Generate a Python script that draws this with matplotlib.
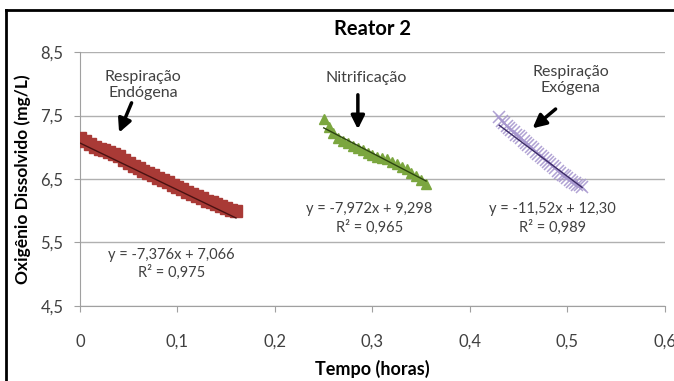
import matplotlib.pyplot as plt
import numpy as np
from matplotlib.lines import Line2D

plt.rcParams['font.family'] = ['Lato', 'DejaVu Sans']

# data
x_endo = [0.000, 0.005, 0.010, 0.015, 0.020, 0.025, 0.030, 0.035, 0.040, 0.045, 0.050,
          0.055, 0.060, 0.065, 0.070, 0.075, 0.080, 0.085, 0.090, 0.095, 0.100, 0.105,
          0.110, 0.115, 0.120, 0.125, 0.130, 0.135, 0.140, 0.145, 0.150, 0.155, 0.160]
y_endo = [7.14, 7.10, 7.05, 7.01, 6.98, 6.95, 6.93, 6.90, 6.86, 6.80, 6.75,
          6.71, 6.67, 6.63, 6.59, 6.56, 6.52, 6.49, 6.45, 6.41, 6.37, 6.34,
          6.30, 6.26, 6.23, 6.20, 6.16, 6.13, 6.10, 6.07, 6.04, 6.01, 6.00]

x_nit = [0.250, 0.255, 0.260, 0.265, 0.270, 0.275, 0.280, 0.285, 0.290, 0.295, 0.300,
         0.305, 0.310, 0.315, 0.320, 0.325, 0.330, 0.335, 0.340, 0.345, 0.350, 0.355]
y_nit = [7.45, 7.32, 7.22, 7.15, 7.10, 7.06, 7.02, 6.99, 6.95, 6.91, 6.88,
         6.85, 6.83, 6.81, 6.77, 6.73, 6.69, 6.65, 6.60, 6.54, 6.48, 6.42]

x_exo = [0.4300, 0.4325, 0.4350, 0.4375, 0.4400, 0.4425, 0.4450, 0.4475, 0.4500, 0.4525,
         0.4550, 0.4575, 0.4600, 0.4625, 0.4650, 0.4675, 0.4700, 0.4725, 0.4750, 0.4775,
         0.4800, 0.4825, 0.4850, 0.4875, 0.4900, 0.4925, 0.4950, 0.4975, 0.5000, 0.5025,
         0.5050, 0.5075, 0.5100, 0.5125, 0.5150]
y_exo = [7.47, 7.42, 7.38, 7.34, 7.31, 7.27, 7.24, 7.20, 7.17, 7.14,
         7.10, 7.07, 7.03, 7.00, 6.97, 6.93, 6.90, 6.87, 6.83, 6.80,
         6.77, 6.73, 6.70, 6.67, 6.63, 6.60, 6.57, 6.54, 6.51, 6.48,
         6.46, 6.43, 6.41, 6.40, 6.38]

# trendline coefficients (slope, intercept) and labels
fit_endo = (-7.376, 7.066)
fit_nit = (-7.972, 9.298)
fit_exo = (-11.52, 12.30)
eq_endo = 'y = -7,376x + 7,066\nR² = 0,975'
eq_nit = 'y = -7,972x + 9,298\nR² = 0,965'
eq_exo = 'y = -11,52x + 12,30\nR² = 0,989'

fig = plt.figure(figsize=(6.74, 3.81), dpi=100)
ax = fig.add_axes([0.1187, 0.1969, 0.8679, 0.6666])

ax.plot(x_endo, y_endo, 's', ms=8, color='#A93A36', mec='#A93A36', zorder=3)
ax.plot(x_nit, y_nit, '^', ms=7, color='#7BA63F', mec='#7BA63F', zorder=3)
ax.plot(x_exo, y_exo, 'x', ms=9, mew=1.1, color='#A898CF', alpha=0.9, zorder=3)

for xs, (m, b), c in [(x_endo, fit_endo, '#4a1212'),
                      (x_nit, fit_nit, '#2c4410'),
                      (x_exo, fit_exo, '#3b2a66')]:
    xx = np.array([min(xs), max(xs)])
    ax.plot(xx, m * xx + b, color=c, lw=1, zorder=4)

ax.set_xlim(0, 0.6)
ax.set_ylim(4.5, 8.5)
ax.set_xticks([0, 0.1, 0.2, 0.3, 0.4, 0.5, 0.6])
ax.set_xticklabels(['0', '0,1', '0,2', '0,3', '0,4', '0,5', '0,6'])
ax.set_yticks([4.5, 5.5, 6.5, 7.5, 8.5])
ax.set_yticklabels(['4,5', '5,5', '6,5', '7,5', '8,5'])
ax.grid(axis='y', color='#b0b0b0', lw=1)
ax.set_axisbelow(True)
for s in ['top', 'right']:
    ax.spines[s].set_visible(False)
for s in ['left', 'bottom']:
    ax.spines[s].set_color('#a0a0a0')
ax.tick_params(colors='#a0a0a0', labelcolor='#404040', labelsize=12, length=4)
ax.tick_params(axis='x', pad=16)
ax.tick_params(axis='y', pad=8)

ax.set_title('Reator 2', fontsize=14.5, fontweight='bold', pad=12)
ax.set_xlabel('Tempo (horas)', fontsize=13, fontweight='bold', labelpad=7)
ax.set_ylabel('Oxigênio Dissolvido (mg/L)', fontsize=12.5, fontweight='bold', labelpad=7)

tc = '#404040'
ax.text(0.065, 7.98, 'Respiração\nEndógena', ha='center', va='center', fontsize=11.5, color=tc)
ax.text(0.294, 8.09, 'Nitrificação', ha='center', va='center', fontsize=11.5, color=tc)
ax.text(0.503, 8.06, 'Respiração\nExógena', ha='center', va='center', fontsize=11.5, color=tc)

arr = dict(arrowstyle='-|>', color='black', lw=2.5, mutation_scale=20)
ax.annotate('', xy=(0.039, 7.19), xytext=(0.054, 7.74), arrowprops=arr)
ax.annotate('', xy=(0.285, 7.24), xytext=(0.285, 7.87), arrowprops=arr)
ax.annotate('', xy=(0.462, 7.27), xytext=(0.490, 7.63), arrowprops=arr)

ax.text(0.094, 5.16, eq_endo, ha='center', va='center', fontsize=10.5, color=tc, linespacing=1.25)
ax.text(0.297, 5.88, eq_nit, ha='center', va='center', fontsize=10.5, color=tc, linespacing=1.25)
ax.text(0.485, 5.88, eq_exo, ha='center', va='center', fontsize=10.5, color=tc, linespacing=1.25)

# outer chart border (left and top visible)
fig.add_artist(Line2D([0.009, 0.009], [0, 0.974], color='black', lw=2))
fig.add_artist(Line2D([0.009, 1], [0.974, 0.974], color='black', lw=2))

fig.savefig('out.png', dpi=100)
